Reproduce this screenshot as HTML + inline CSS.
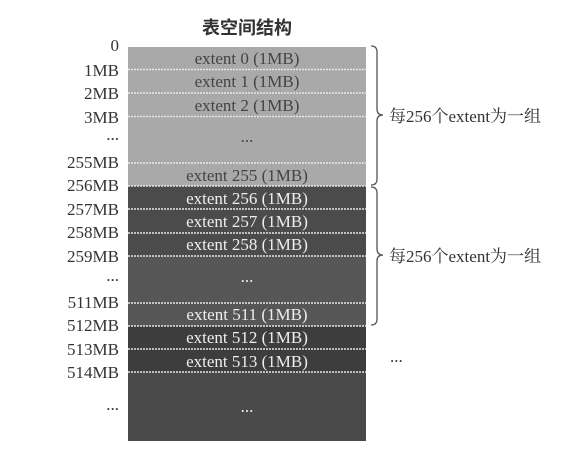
<!DOCTYPE html>
<html><head><meta charset="utf-8"><style>
html,body{margin:0;padding:0;background:#fff;}
svg{display:block;}
</style></head><body>
<svg width="586" height="454" viewBox="0 0 586 454" xmlns="http://www.w3.org/2000/svg">
<g font-family="'Liberation Serif','Noto Serif CJK SC',serif">
<text x="247" y="34" font-size="18" font-weight="bold" text-anchor="middle" fill="#333" font-family="'Liberation Serif','Noto Sans CJK SC',sans-serif">表空间结构</text>
<rect x="128" y="47" width="238" height="139" fill="#a9a9a9"/>
<rect x="128" y="186" width="238" height="70" fill="#4b4b4b"/>
<rect x="128" y="256" width="238" height="70" fill="#565656"/>
<rect x="128" y="326" width="238" height="46" fill="#3d3d3d"/>
<rect x="128" y="372" width="238" height="69" fill="#4a4a4a"/>
<g stroke="#e6e6e6" stroke-width="1.5" stroke-dasharray="2,1">
<line x1="128" y1="69.5" x2="366" y2="69.5"/>
<line x1="128" y1="93" x2="366" y2="93"/>
<line x1="128" y1="116.5" x2="366" y2="116.5"/>
<line x1="128" y1="163" x2="366" y2="163"/>
<line x1="128" y1="186" x2="366" y2="186"/>
<line x1="128" y1="209" x2="366" y2="209"/>
<line x1="128" y1="233" x2="366" y2="233"/>
<line x1="128" y1="256" x2="366" y2="256"/>
<line x1="128" y1="303" x2="366" y2="303"/>
<line x1="128" y1="326" x2="366" y2="326"/>
<line x1="128" y1="349" x2="366" y2="349"/>
<line x1="128" y1="372" x2="366" y2="372"/>
</g>
<g font-size="17" text-anchor="middle">
<text x="247" y="64" fill="#444">extent 0 (1MB)</text>
<text x="247" y="87" fill="#444">extent 1 (1MB)</text>
<text x="247" y="111" fill="#444">extent 2 (1MB)</text>
<text x="247" y="142" fill="#444">...</text>
<text x="247" y="181" fill="#444">extent 255 (1MB)</text>
<text x="247" y="204" fill="#eee">extent 256 (1MB)</text>
<text x="247" y="227" fill="#eee">extent 257 (1MB)</text>
<text x="247" y="250" fill="#eee">extent 258 (1MB)</text>
<text x="247" y="282" fill="#eee">...</text>
<text x="247" y="320" fill="#eee">extent 511 (1MB)</text>
<text x="247" y="343" fill="#eee">extent 512 (1MB)</text>
<text x="247" y="367" fill="#eee">extent 513 (1MB)</text>
<text x="247" y="412" fill="#eee">...</text>
</g>
<g font-size="17" text-anchor="end" fill="#333">
<text x="119" y="51">0</text>
<text x="119" y="76">1MB</text>
<text x="119" y="99">2MB</text>
<text x="119" y="123">3MB</text>
<text x="119" y="140">...</text>
<text x="119" y="168">255MB</text>
<text x="119" y="191">256MB</text>
<text x="119" y="215">257MB</text>
<text x="119" y="238">258MB</text>
<text x="119" y="262">259MB</text>
<text x="119" y="281">...</text>
<text x="119" y="308">511MB</text>
<text x="119" y="331">512MB</text>
<text x="119" y="355">513MB</text>
<text x="119" y="378">514MB</text>
<text x="119" y="410">...</text>
</g>
<g fill="none" stroke="#555" stroke-width="1.3">
<path d="M371,46 Q377,46 377,52 L377,109 Q377,115 383,115 Q377,115 377,121 L377,179 Q377,185 371,185"/>
<path d="M371,187 Q377,187 377,193 L377,249 Q377,255 383,255 Q377,255 377,261 L377,319 Q377,325 371,325"/>
</g>
<g font-size="17" fill="#333">
<text x="389" y="122">每256个extent为一组</text>
<text x="389" y="262">每256个extent为一组</text>
<text x="390" y="362">...</text>
</g>
</g>
</svg>
</body></html>
